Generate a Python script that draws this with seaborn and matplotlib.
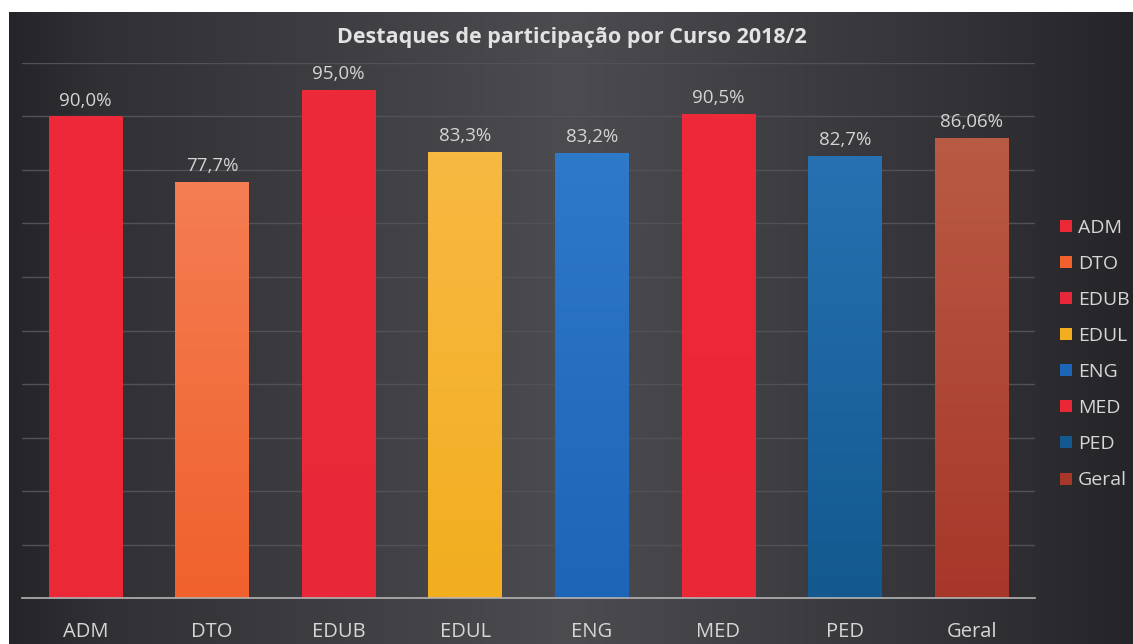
import numpy as np
import pandas as pd
import seaborn as sns
import matplotlib.pyplot as plt
from matplotlib.colors import LinearSegmentedColormap
from matplotlib.lines import Line2D

# dados do grafico
cursos = ['ADM', 'DTO', 'EDUB', 'EDUL', 'ENG', 'MED', 'PED', 'Geral']
participacao = [90.0, 77.7, 95.0, 83.3, 83.2, 90.5, 82.7, 86.06]
rotulos = ['90,0%', '77,7%', '95,0%', '83,3%', '83,2%', '90,5%', '82,7%', '86,06%']

# cor do topo / cor da base de cada barra
cor_topo = ['#ee2a3a', '#f47d52', '#ec2a3a', '#f8b943', '#2f79c9', '#ee2939', '#2571b1', '#b95a44']
cor_base = ['#ea2836', '#f0612d', '#e82838', '#f2ae1f', '#1d65b6', '#ea2737', '#13598f', '#a7372a']

W, H = 1133, 644
sns.set_theme(style='dark')
plt.rcParams['font.family'] = ['Open Sans', 'DejaVu Sans']

fig = plt.figure(figsize=(W / 100, H / 100), dpi=100, facecolor='white')

# fundo escuro com degradê
bg = fig.add_axes([9 / W, 0, 1 - 9 / W, (H - 12) / H])
grad = np.linspace(0, 1, 400)
prof = np.interp(grad, [0, 0.08, 0.5, 0.85, 1], [0.0, 0.3, 1.0, 0.35, 0.0])
bg_cmap = LinearSegmentedColormap.from_list('bg', ['#252429', '#4c4c50'])
bg.imshow(np.tile(prof, (20, 1)), aspect='auto', cmap=bg_cmap, extent=[0, 1, 0, 1])
bg.set_axis_off()

ax = fig.add_axes([22 / W, 46 / H, 1013 / W, 535 / H])
ax.patch.set_alpha(0)

df = pd.DataFrame({'curso': cursos, 'valor': participacao})
sns.barplot(data=df, x='curso', y='valor', hue='curso', palette=cor_base,
            width=0.58, legend=False, ax=ax, saturation=1, linewidth=0)

# degradê vertical dentro das barras
for i, p in enumerate(ax.patches):
    x0, w, h = p.get_x(), p.get_width(), p.get_height()
    cmap = LinearSegmentedColormap.from_list('b%d' % i, [cor_base[i], cor_topo[i]])
    im = ax.imshow(np.linspace(0, 1, 100).reshape(-1, 1), cmap=cmap, origin='lower',
                   aspect='auto', extent=[x0, x0 + w, 0, h], zorder=p.get_zorder() + 0.1)
    im.set_clip_path(p)

ax.set_xlim(-0.5, len(cursos) - 0.5)
ax.set_ylim(0, 100)

for i, p in enumerate(ax.patches):
    ax.text(p.get_x() + p.get_width() / 2, p.get_height() + 1.3, rotulos[i],
            ha='center', va='bottom', color='#d4d4d4', fontsize=13.5)

ax.set_yticks(np.arange(10, 101, 10))
ax.yaxis.grid(True, color='#525256', linewidth=1)
ax.xaxis.grid(False)
ax.set_yticklabels([])
ax.tick_params(axis='y', length=0)
ax.tick_params(axis='x', length=0, pad=17, labelsize=14.5, labelcolor='#d6d6d6')
ax.set_xlabel('')
ax.set_ylabel('')
for s in ['top', 'right', 'left']:
    ax.spines[s].set_visible(False)
ax.spines['bottom'].set_color('#b4b4b4')
ax.spines['bottom'].set_linewidth(1.2)
ax.set_axisbelow(True)

fig.text(0.505, 1 - 38 / H, 'Destaques de participação por Curso 2018/2',
         ha='center', va='center', color='#e2e2e2', fontsize=15.5, fontweight='bold')

handles = [Line2D([], [], marker='s', linestyle='', markersize=9,
                  markerfacecolor=cor_base[i], markeredgewidth=0) for i in range(len(cursos))]
fig.legend(handles, cursos, loc='upper left', bbox_to_anchor=(1050 / W, 1 - 211 / H),
           frameon=False, fontsize=14, labelcolor='#d6d6d6', handlelength=0.8,
           handletextpad=0.25, labelspacing=0.93, borderaxespad=0)

fig.savefig('out.png', dpi=100, facecolor='white')
